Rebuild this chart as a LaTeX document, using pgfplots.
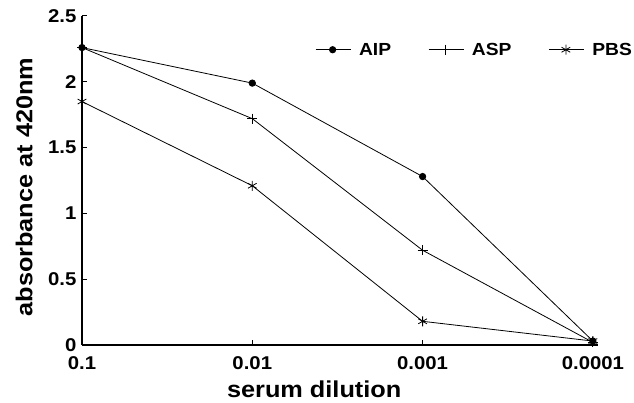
\documentclass[border=0pt]{standalone}
\usepackage{fontspec}
\setmainfont{Liberation Sans}[FakeStretch=1.1]
\usepackage{pgfplots}
\pgfplotsset{compat=1.18}

\begin{document}
\begin{tikzpicture}
\useasboundingbox (0pt,0pt) rectangle (634pt,402pt);
\begin{axis}[
    at={(82pt,57pt)}, anchor=south west,
    scale only axis,
    width=516pt, height=329pt,
    xmin=0, xmax=3.03,
    ymin=0, ymax=2.5,
    axis lines*=left,
    axis line style={line width=1.3pt},
    tick align=inside,
    major tick length=5pt,
    tick style={line width=1pt, black},
    xtick={0,1,2,3},
    xticklabels={0.1,0.01,0.001,0.0001},
    ytick={0,0.5,1,1.5,2,2.5},
    /pgf/number format/assume math mode=true,
    tick label style={font=\fontsize{18.5}{18.5}\selectfont\bfseries},
    yticklabel style={xshift=-2pt},
    xticklabel style={yshift=-8pt},
    xlabel={serum dilution},
    ylabel={absorbance at 420nm},
    label style={font=\fontsize{23}{23}\selectfont\bfseries},
    xlabel style={at={(axis description cs:0.45,-0.134)}, anchor=center},
    ylabel style={at={(axis description cs:-0.112,0.48)}, anchor=center, rotate=0},
    legend columns=3,
    legend style={at={(axis description cs:0.4516,0.925)}, anchor=north west,
        draw=none, fill=none, inner sep=0pt,
        font=\fontsize{17.5}{17.5}\selectfont\bfseries,
        /tikz/every odd column/.append style={column sep=6pt},
        /tikz/every even column/.append style={column sep=35pt}},
    legend image code/.code={
        \draw[mark repeat=2, mark phase=2] plot coordinates {(0pt,0pt) (17pt,0pt) (35pt,0pt)};
    },
    every axis plot/.append style={black, line width=0.8pt},
]
\addplot[mark=*, mark size=3.2pt] coordinates {
    (0,2.26) (1,1.99) (2,1.28) (3,0.03)
};
\addplot[mark=+, mark size=5pt] coordinates {
    (0,2.26) (1,1.72) (2,0.72) (3,0.02)
};
\addplot[mark=asterisk, mark size=5pt] coordinates {
    (0,1.85) (1,1.21) (2,0.18) (3,0.03)
};
\legend{AIP, ASP, PBS}
\end{axis}
\end{tikzpicture}
\end{document}
